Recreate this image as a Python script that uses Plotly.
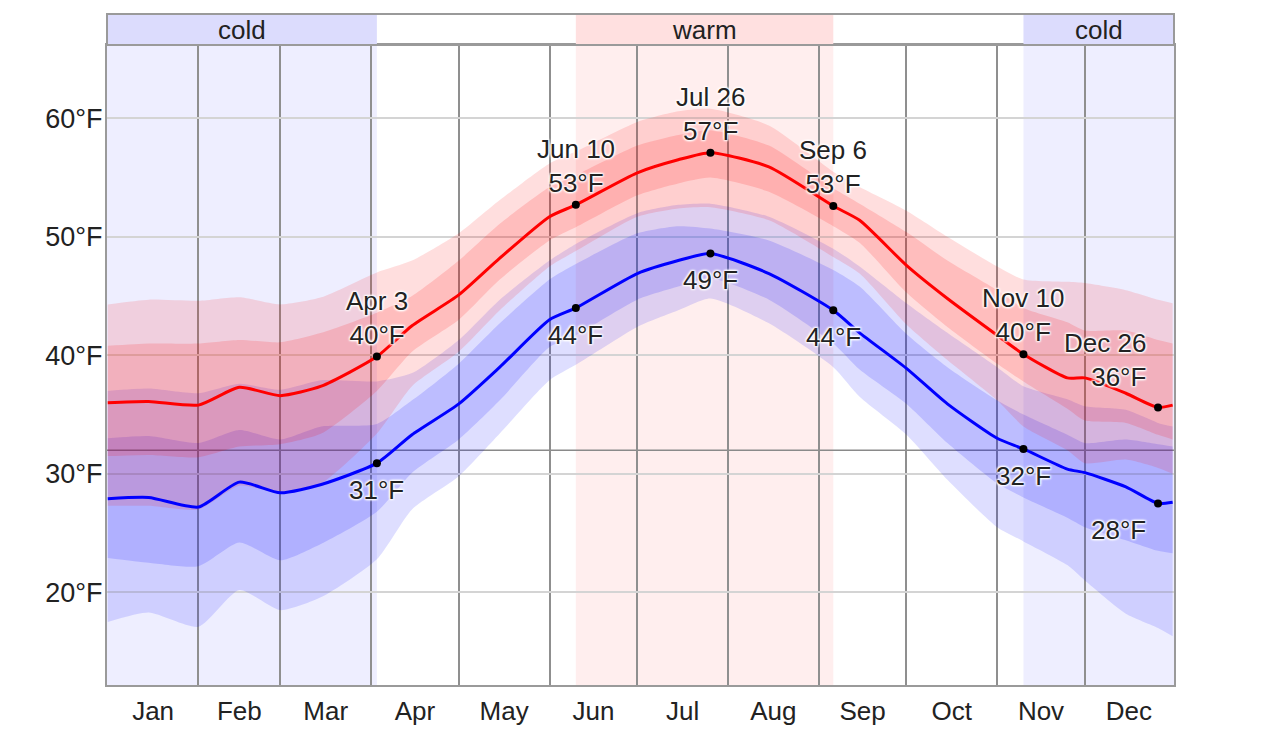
import pandas as pd
import plotly.graph_objects as go

# daily temperature readings (°F)
dates = ["2023-01-01", "2023-01-15", "2023-02-01", "2023-02-15", "2023-03-01", "2023-03-15",
         "2023-04-03", "2023-04-15", "2023-05-01", "2023-05-15", "2023-06-01", "2023-06-10",
         "2023-07-01", "2023-07-15", "2023-07-26", "2023-08-15", "2023-09-06", "2023-09-15",
         "2023-10-01", "2023-10-15", "2023-11-01", "2023-11-10", "2023-11-25", "2023-12-01",
         "2023-12-15", "2023-12-26", "2023-12-31"]

high = [36.0, 36.1, 35.8, 37.3, 36.6, 37.4, 39.9, 42.5, 45.1, 48.2, 51.7, 52.7, 55.4, 56.5,
        57.1, 55.9, 52.6, 51.4, 47.6, 44.8, 41.7, 40.1, 38.1, 38.1, 36.8, 35.6, 35.8]
high_p90 = [44.3, 44.7, 44.6, 44.9, 44.3, 44.9, 47.0, 48.0, 50.3, 53.1, 56.2, 57.2, 59.7, 60.6,
            60.8, 59.4, 55.5, 54.2, 52.2, 50.0, 47.5, 46.4, 46.2, 46.1, 45.5, 44.7, 44.4]
high_p75 = [40.8, 41.0, 41.0, 41.3, 41.1, 41.9, 43.6, 45.0, 48.0, 51.1, 54.2, 55.2, 57.7, 58.6,
            59.0, 57.7, 54.1, 52.8, 50.4, 48.0, 45.5, 44.0, 42.8, 42.1, 42.1, 41.3, 41.0]
high_p25 = [31.5, 31.6, 31.4, 32.3, 32.5, 33.4, 37.0, 40.3, 43.0, 46.4, 49.7, 50.8, 53.5, 54.5,
            55.0, 53.8, 50.9, 49.5, 45.3, 42.4, 39.3, 37.8, 35.5, 34.5, 34.3, 33.3, 32.9]
high_p10 = [27.3, 27.3, 27.0, 29.0, 28.4, 29.2, 33.4, 37.4, 40.3, 43.8, 47.5, 48.8, 51.7, 52.4,
            52.5, 51.4, 48.3, 46.9, 42.6, 39.6, 36.2, 34.0, 32.0, 30.9, 31.2, 30.5, 30.0]

low = [27.9, 28.0, 27.2, 29.3, 28.4, 29.1, 30.9, 33.3, 35.9, 39.0, 43.0, 44.0, 46.9, 48.0,
       48.6, 46.9, 43.8, 41.9, 38.9, 35.9, 33.0, 32.1, 30.4, 30.1, 28.9, 27.5, 27.6]
low_p90 = [37.0, 37.2, 36.8, 37.6, 37.1, 37.9, 37.8, 38.5, 41.3, 44.7, 48.0, 49.4, 52.0, 52.7,
           52.8, 51.7, 49.0, 47.5, 44.4, 41.9, 39.0, 37.4, 36.3, 35.7, 35.4, 34.3, 34.0]
low_p75 = [33.0, 33.2, 32.6, 33.7, 32.9, 34.0, 34.2, 36.2, 39.3, 42.7, 46.4, 47.7, 50.3, 50.9,
           50.7, 49.7, 47.2, 45.8, 41.8, 39.0, 36.2, 35.0, 33.3, 32.6, 32.9, 32.5, 32.3]
low_p25 = [22.9, 22.5, 22.2, 24.2, 22.7, 24.1, 26.8, 30.1, 32.9, 36.2, 40.7, 41.7, 44.7, 45.8,
           46.5, 44.7, 41.0, 38.8, 35.9, 32.6, 29.2, 28.0, 26.3, 25.5, 24.4, 23.5, 23.3]
low_p10 = [17.5, 18.3, 17.1, 20.2, 18.5, 19.6, 22.8, 27.0, 29.8, 33.4, 37.9, 39.2, 42.4, 43.8,
           44.8, 42.7, 39.0, 36.5, 33.3, 29.5, 25.5, 24.3, 22.3, 21.0, 18.2, 17.0, 16.3]

# labelled days
label_dates = ["2023-04-03", "2023-06-10", "2023-07-26", "2023-09-06", "2023-11-10", "2023-12-26"]
label_names = ["Apr 3", "Jun 10", "Jul 26", "Sep 6", "Nov 10", "Dec 26"]

# seasons shown in the strip above the chart
x_range = ["2022-12-31 18:00", "2023-12-31 11:00"]
season_names = ["cold", "warm", "cold"]
season_start = [x_range[0], "2023-06-10", "2023-11-10"]
season_end = ["2023-04-03", "2023-09-06", x_range[1]]
season_fill = {"cold": "#eeeeff", "warm": "#ffeeee"}
season_strip = {"cold": "#dcdcfd", "warm": "#ffe0e0"}

font_family = "Liberation Sans, Arial, sans-serif"
font_size = 26
halo = "white 1px 1px 2px, white -1px -1px 2px, white 1px -1px 2px, white -1px 1px 2px"

fig = go.Figure()


def add_band(lower, upper, color):
    fig.add_trace(go.Scatter(x=dates, y=lower, mode="lines", line=dict(width=0, shape="spline", smoothing=0.6),
                             hoverinfo="skip", showlegend=False))
    fig.add_trace(go.Scatter(x=dates, y=upper, mode="lines", line=dict(width=0, shape="spline", smoothing=0.6),
                             fill="tonexty", fillcolor=color, hoverinfo="skip", showlegend=False))


add_band(low_p10, low_p90, "rgba(0,0,255,0.13)")
add_band(low_p25, low_p75, "rgba(0,0,255,0.15)")
add_band(high_p10, high_p90, "rgba(255,0,0,0.13)")
add_band(high_p25, high_p75, "rgba(255,0,0,0.15)")

fig.add_trace(go.Scatter(x=dates, y=low, mode="lines", line=dict(color="#0000ff", width=3, shape="spline", smoothing=0.6),
                         showlegend=False))
fig.add_trace(go.Scatter(x=dates, y=high, mode="lines", line=dict(color="#ff0000", width=3, shape="spline", smoothing=0.6),
                         showlegend=False))

idx = [dates.index(d) for d in label_dates]
hi_pts = [high[i] for i in idx]
lo_pts = [low[i] for i in idx]
fig.add_trace(go.Scatter(x=label_dates + label_dates, y=hi_pts + lo_pts, mode="markers",
                         marker=dict(color="black", size=8), showlegend=False))

# annotations for the labelled days
for d, name, h, l in zip(label_dates, label_names, hi_pts, lo_pts):
    last = d == label_dates[-1]
    anchor = "right" if last else "center"
    shift = -10 if last else 0
    fig.add_annotation(x=d, y=h, text=f"{name}<br>{round(h)}°F", showarrow=False, xanchor=anchor,
                       align=anchor, yanchor="bottom", xshift=shift, yshift=13 if last else 5,
                       font=dict(size=font_size, color="#222", family=font_family, shadow=halo))
    fig.add_annotation(x=d, y=l, text=f"{round(l)}°F", showarrow=False, xanchor=anchor, align=anchor,
                       yanchor="top", xshift=shift, yshift=-10,
                       font=dict(size=font_size, color="#222", family=font_family, shadow=halo))

# season shading and top strip
strip_top = 1 + 31 / 640
for name, s, e in zip(season_names, season_start, season_end):
    fig.add_shape(type="rect", xref="x", yref="paper", x0=s, x1=e, y0=0, y1=1,
                  fillcolor=season_fill[name], line_width=0, layer="below")
    fig.add_shape(type="rect", xref="x", yref="paper", x0=s, x1=e, y0=1, y1=strip_top,
                  fillcolor=season_strip[name], line_width=0, layer="above")
    mid = pd.Timestamp(s) + (pd.Timestamp(e) - pd.Timestamp(s)) / 2
    fig.add_annotation(x=mid, y=(1 + strip_top) / 2, yref="paper", yanchor="middle", text=name,
                       showarrow=False, font=dict(size=font_size, color="#222", family=font_family))

fig.add_shape(type="rect", xref="paper", yref="paper", x0=0, x1=1, y0=1, y1=strip_top,
              line=dict(color="#9a9a9a", width=2), fillcolor="rgba(0,0,0,0)", layer="above")
# freezing line
fig.add_shape(type="line", xref="paper", yref="y", x0=0, x1=1, y0=32, y1=32,
              line=dict(color="#8a8a8a", width=1.5), layer="between")

fig.update_xaxes(type="date", range=x_range, dtick="M1", tick0="2023-01-01", tickformat="%b",
                 ticklabelmode="period", showgrid=True, gridcolor="#8f8f8f", gridwidth=1.5,
                 showline=True, mirror=True, linecolor="#9a9a9a", linewidth=2, ticks="",
                 automargin=False, ticklabelstandoff=2,
                 tickfont=dict(size=font_size, color="#222", family=font_family))
fig.update_yaxes(range=[12.18, 66.19], dtick=10, tick0=0, ticksuffix="°F", showgrid=True,
                 gridcolor="#d4d4d4", gridwidth=1.5, zeroline=False, showline=True, mirror=True,
                 linecolor="#9a9a9a", linewidth=2, ticks="", automargin=False, ticklabelstandoff=-3,
                 tickfont=dict(size=27, color="#222", family=font_family))

# page body has an 8px margin, so the figure margins are reduced by that much
fig.update_layout(width=1280, height=734, margin=dict(l=99, r=114, t=37, b=57, pad=0),
                  plot_bgcolor="white", paper_bgcolor="white", hovermode=False,
                  font=dict(family=font_family))

fig.write_html("out.html")
